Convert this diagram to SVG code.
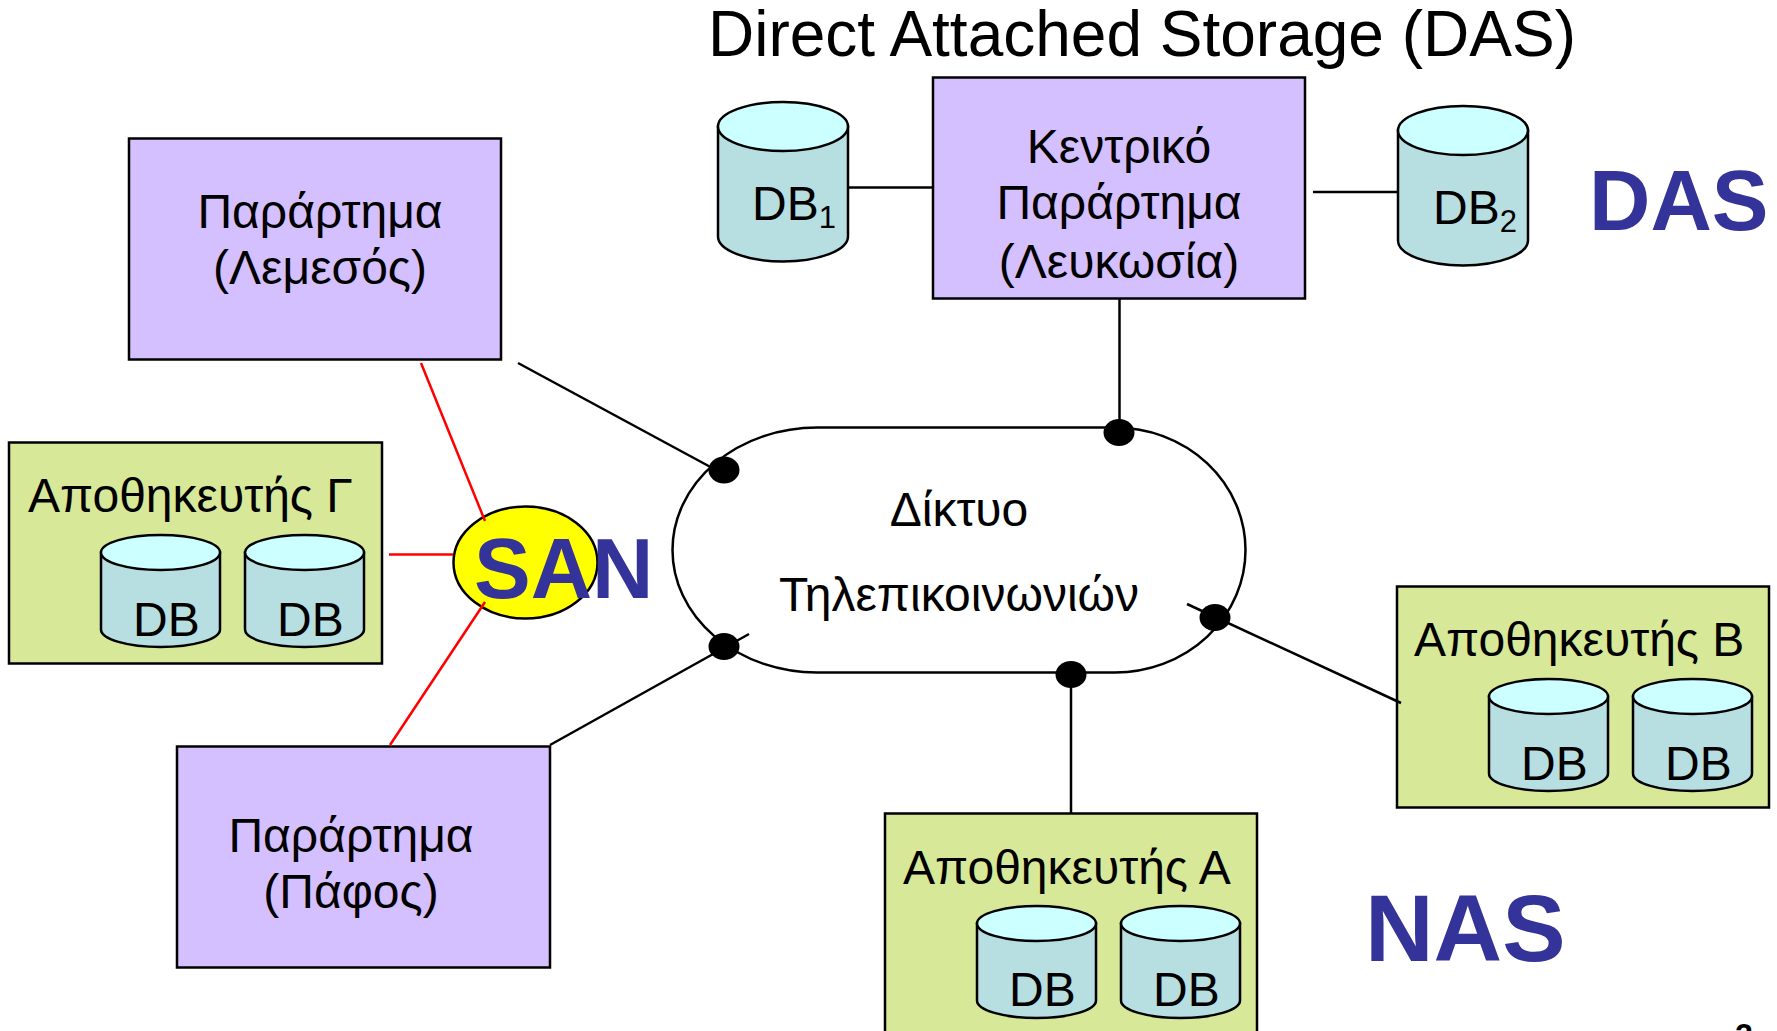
<svg xmlns="http://www.w3.org/2000/svg" xmlns:xlink="http://www.w3.org/1999/xlink" width="1777" height="1031" viewBox="0 0 1777 1031">
<style>
text{font-family:"Liberation Sans",Arial,sans-serif;fill:#000}
.t{font-size:48px}
.m{text-anchor:middle}
.big{font-weight:bold;fill:#333399}
.box{stroke:#000;stroke-width:2.5}
.purple{fill:#D4BFFF}
.green{fill:#D7E899}
.body{fill:#B7DEE1;stroke:#000;stroke-width:2.5}
.top{fill:#CCFFFF;stroke:#000;stroke-width:2.5}
.c{fill:none;stroke:#000;stroke-width:2.5}
.r{fill:none;stroke:#FF0000;stroke-width:2.5}
.dot{fill:#000}
</style>
<defs>
<g id="cylS">
<path class="body" d="M0 0V77A59.5 17.5 0 0 0 119 77V0Z"/>
<ellipse class="top" cx="59.5" cy="0" rx="59.5" ry="17.5"/>
</g>
<g id="cylL">
<path class="body" d="M0 0V110A65 25 0 0 0 130 110V0Z"/>
<ellipse class="top" cx="65" cy="0" rx="65" ry="24.5"/>
</g>
</defs>
<rect width="1777" height="1031" fill="#fff"/>
<text id="title" x="708" y="56" font-size="64">Direct Attached Storage (DAS)</text>

<g id="network">
<path d="M817 427.500H1115A130.500 122.500 0 0 1 1115 672.500H817A144.500 122.500 0 0 1 817 427.500Z" fill="#fff" stroke="#000" stroke-width="2.500"/>
<text class="t m" x="959" y="526">Δίκτυο</text>
<text class="t m" x="959" y="611">Τηλεπικοινωνιών</text>
</g>

<g id="branch-lemesos">
<rect class="box purple" x="129" y="138.500" width="372" height="221"/>
<text class="t m" x="320" y="228">Παράρτημα</text>
<text class="t m" x="320" y="284">(Λεμεσός)</text>
</g>
<g id="branch-pafos">
<rect class="box purple" x="177" y="746.500" width="373" height="221"/>
<text class="t m" x="351" y="852">Παράρτημα</text>
<text class="t m" x="351" y="908">(Πάφος)</text>
</g>
<g id="branch-central">
<rect class="box purple" x="933" y="77.500" width="372" height="221"/>
<text class="t m" x="1119" y="163">Κεντρικό</text>
<text class="t m" x="1119" y="219">Παράρτημα</text>
<text class="t m" x="1119" y="278">(Λευκωσία)</text>
</g>
<g id="db1">
<use xlink:href="#cylL" href="#cylL" x="718" y="126.500"/>
<text class="t" x="752" y="220">DB<tspan font-size="31" dy="8">1</tspan></text>
</g>
<g id="db2">
<use xlink:href="#cylL" href="#cylL" x="1398" y="130.500"/>
<text class="t" x="1433" y="224">DB<tspan font-size="31" dy="8">2</tspan></text>
</g>

<g id="store-gamma">
<rect class="box green" x="9" y="442.500" width="373" height="221"/>
<text class="t" x="28" y="512">Αποθηκευτής Γ</text>
<use xlink:href="#cylS" href="#cylS" x="101" y="552.500"/>
<use xlink:href="#cylS" href="#cylS" x="245" y="552.500"/>
<text class="t" x="133" y="636">DB</text>
<text class="t" x="277" y="636">DB</text>
</g>
<g id="store-b">
<rect class="box green" x="1397" y="586.500" width="372" height="221"/>
<text class="t" x="1414" y="656">Αποθηκευτής Β</text>
<use xlink:href="#cylS" href="#cylS" x="1489" y="696.500"/>
<use xlink:href="#cylS" href="#cylS" x="1633" y="696.500"/>
<text class="t" x="1521" y="780">DB</text>
<text class="t" x="1665" y="780">DB</text>
</g>
<g id="store-a">
<rect class="box green" x="885" y="813.500" width="372" height="221"/>
<text class="t" x="903" y="884">Αποθηκευτής Α</text>
<use xlink:href="#cylS" href="#cylS" x="977" y="923.500"/>
<use xlink:href="#cylS" href="#cylS" x="1121" y="923.500"/>
<text class="t" x="1009" y="1006">DB</text>
<text class="t" x="1153" y="1006">DB</text>
</g>

<g id="san">
<ellipse cx="525.500" cy="562.500" rx="72" ry="56" fill="#FFFF00" stroke="#000" stroke-width="2.500"/>
</g>

<g id="connectors">
<line class="c" x1="518" y1="363" x2="716" y2="470"/>
<line class="c" x1="1119.500" y1="298" x2="1119.500" y2="425"/>
<line class="c" x1="550" y1="745" x2="749" y2="634"/>
<line class="c" x1="1187" y1="604" x2="1401" y2="703"/>
<line class="c" x1="1071" y1="680" x2="1071" y2="813"/>
<line class="c" x1="848" y1="187.500" x2="933" y2="187.500"/>
<line class="c" x1="1313" y1="192" x2="1398" y2="192"/>
<line class="r" x1="421" y1="363" x2="485" y2="521"/>
<line class="r" x1="389" y1="554.500" x2="453" y2="554.500"/>
<line class="r" x1="485" y1="602" x2="390" y2="745"/>
<ellipse class="dot" cx="724" cy="470" rx="15.500" ry="13.500"/>
<ellipse class="dot" cx="1119" cy="432.500" rx="15.500" ry="13.500"/>
<ellipse class="dot" cx="724" cy="646.500" rx="15.500" ry="13.500"/>
<ellipse class="dot" cx="1215" cy="617.500" rx="15.500" ry="13.500"/>
<ellipse class="dot" cx="1071" cy="674.500" rx="15.500" ry="13.500"/>
</g>

<text id="san-label" class="big" x="474" y="598" font-size="85">SAN</text>
<text id="das-label" class="big" x="1589" y="230" font-size="85">DAS</text>
<text id="nas-label" class="big" x="1365" y="961" font-size="95">NAS</text>
<text id="page" x="1735" y="1046" font-size="32" font-weight="bold">2</text>
</svg>
